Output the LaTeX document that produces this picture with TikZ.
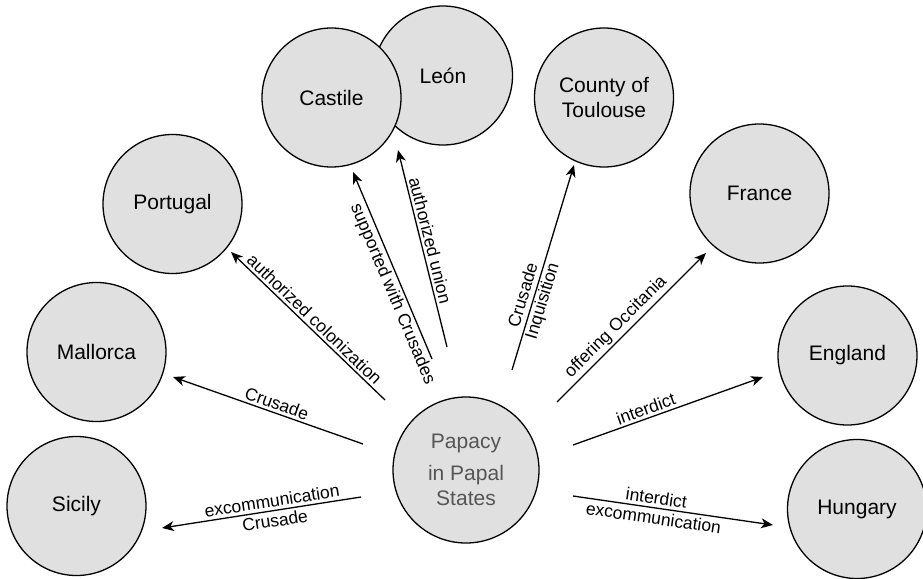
\documentclass[tikz,border=0pt]{standalone}
\usepackage{fontspec}
\setmainfont{Liberation Sans}
\usetikzlibrary{arrows.meta}
\definecolor{nodefill}{HTML}{E0E0E0}
\definecolor{paptext}{HTML}{555555}
\begin{document}
\begin{tikzpicture}[x=1pt,y=-1pt,
  country/.style={circle, draw=black, line width=1.3pt, fill=nodefill,
    minimum size=139pt, inner sep=0pt, align=center,
    font=\fontsize{21}{25}\selectfont},
  rel/.style={-{Stealth[length=12pt,width=10pt,inset=3.5pt]}, line width=1.3pt},
  lbl/.style={sloped, inner sep=2.5pt, align=center,
    font=\fontsize{17.5}{20}\selectfont}]
\useasboundingbox (0,0) rectangle (923,578);

% nodes
\node[country, minimum size=146pt, text=paptext] (pap) at (466,470) {Papacy\\[7pt]in Papal\\States};
\node[country] (sic) at (76.5,506) {Sicily};
\node[country] (mal) at (96.5,352) {Mallorca};
\node[country] (por) at (172.5,204) {Portugal};
\node[country] (leo) at (443,75.5) {León};
\node[country] (cas) at (331.5,97.5) {Castile};
\node[country] (tou) at (604,97.5) {County of\\Toulouse};
\node[country] (fra) at (759.5,193.5) {France};
\node[country] (eng) at (847.5,355.5) {England};
\node[country] (hun) at (857,509) {Hungary};

% connector end points
\coordinate (s1) at (361,497); \coordinate (e1) at (162,528);
\coordinate (s2) at (363,444); \coordinate (e2) at (173,377);
\coordinate (s3) at (385,400); \coordinate (e3) at (231,252);
\coordinate (s4) at (432,359); \coordinate (e4) at (353,172);
\coordinate (s5) at (447,347); \coordinate (e5) at (398,150);
\coordinate (s6) at (512,370); \coordinate (e6) at (574,165);
\coordinate (s7) at (557,402); \coordinate (e7) at (706,253);
\coordinate (s8) at (573,445); \coordinate (e8) at (763,377);
\coordinate (s9) at (573,496); \coordinate (e9) at (773,525);

% connectors
\draw[rel] (s1) -- node[lbl, pos=0.44] {excommunication\\Crusade} (e1);
\draw[rel] (s2) -- node[lbl, pos=0.47, above] {Crusade} (e2);
\draw[rel] (s3) -- node[lbl, pos=0.5, above] {authorized colonization} (e3);
\draw[rel] (s4) -- node[lbl, pos=0.37, below] {supported with Crusades} (e4);
\draw[rel] (s5) -- node[lbl, pos=0.53, above] {authorized union} (e5);
\draw[rel] (s6) -- node[lbl, pos=0.35] {Crusade\\Inquisition} (e6);
\draw[rel] (s7) -- node[lbl, pos=0.45, above] {offering Occitania} (e7);
\draw[rel] (s8) -- node[lbl, pos=0.40, above] {interdict} (e8);
\draw[rel] (s9) -- node[lbl, pos=0.41] {interdict\\excommunication} (e9);
\end{tikzpicture}
\end{document}
